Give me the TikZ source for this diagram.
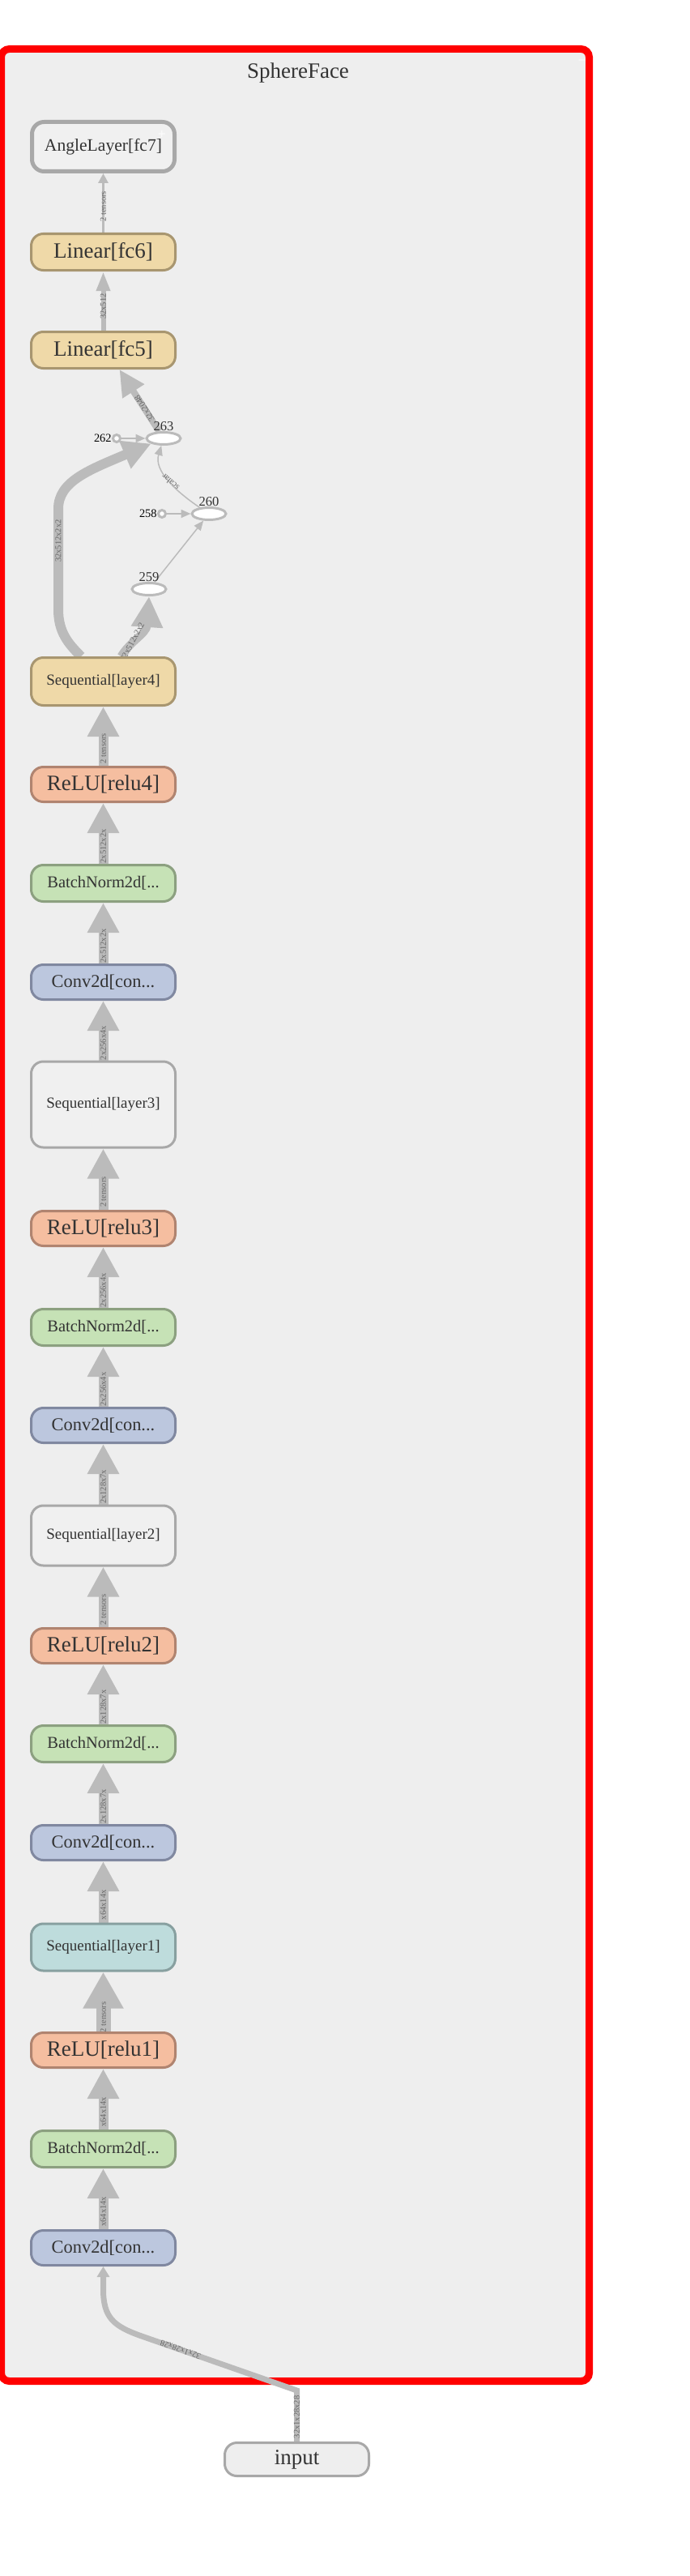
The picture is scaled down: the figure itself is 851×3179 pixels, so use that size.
\documentclass[tikz,border=0pt]{standalone}
\usepackage{fontspec}
\setmainfont{Liberation Serif}
\usetikzlibrary{arrows.meta,shapes.geometric}

\definecolor{clusterbg}{HTML}{EEEEEE}
\definecolor{framered}{HTML}{FF0000}
\definecolor{edgegray}{HTML}{BBBBBB}
\definecolor{labgray}{HTML}{666666}
\definecolor{txtgray}{HTML}{333333}
\definecolor{tanfill}{HTML}{EFD9A8}
\definecolor{tanline}{HTML}{A89670}
\definecolor{relufill}{HTML}{F5BEA0}
\definecolor{reluline}{HTML}{B08470}
\definecolor{bnfill}{HTML}{C6E2B6}
\definecolor{bnline}{HTML}{8CA080}
\definecolor{convfill}{HTML}{BCC7DE}
\definecolor{convline}{HTML}{8088A0}
\definecolor{tealfill}{HTML}{BEDCDC}
\definecolor{tealline}{HTML}{88A0A0}
\definecolor{seqfill}{HTML}{F0F0F0}
\definecolor{seqline}{HTML}{A8A8A8}

\pgfdeclarelayer{cluster}
\pgfdeclarelayer{edges}
\pgfsetlayers{cluster,edges,main}

\begin{document}
\begin{tikzpicture}[
    x=0.5pt, y=-0.5pt,
    box/.style={draw, rounded corners=7.5pt, line width=1.5pt, minimum width=89pt, inner sep=0pt, text=txtgray},
    linear/.style={box, fill=tanfill, draw=tanline, minimum height=22.5pt, font=\fontsize{13.5pt}{16pt}\selectfont},
    relu/.style={box, fill=relufill, draw=reluline, minimum height=21.5pt, font=\fontsize{13.5pt}{16pt}\selectfont},
    bn/.style={box, fill=bnfill, draw=bnline, minimum height=22.5pt, font=\fontsize{10.25pt}{12pt}\selectfont},
    conv/.style={box, fill=convfill, draw=convline, minimum height=21.5pt, font=\fontsize{11.2pt}{13pt}\selectfont},
    seq/.style={box, fill=seqfill, draw=seqline, font=\fontsize{9.5pt}{11pt}\selectfont},
    seqtan/.style={seq, fill=tanfill, draw=tanline, minimum height=29.5pt},
    seqteal/.style={seq, fill=tealfill, draw=tealline, minimum height=29pt},
    anglebox/.style={box, fill=seqfill, draw=seqline, line width=2.5pt, minimum width=88pt, minimum height=30.5pt, font=\fontsize{10.8pt}{13pt}\selectfont},
    inbox/.style={box, fill=clusterbg, draw=seqline, minimum height=20.5pt, font=\fontsize{13.5pt}{16pt}\selectfont},
    op/.style={ellipse, draw=edgegray, fill=white, line width=1.5pt, minimum width=21pt, minimum height=7.5pt, inner sep=0pt, label distance=4.5pt},
    const/.style={circle, draw=edgegray, fill=white, line width=1.5pt, minimum size=4.5pt, inner sep=0pt, label distance=3pt},
    idlab/.style={font=\fontsize{8.3pt}{10pt}\selectfont, text=txtgray, inner sep=0pt},
    constlab/.style={font=\fontsize{7.2pt}{9pt}\selectfont, text=black, inner sep=0pt},
    elabel/.style={font=\fontsize{5.25pt}{6pt}\selectfont, text=labgray, inner sep=0pt},
    vlabel/.style={elabel, rotate=90},
    flow/.style n args={3}{draw=edgegray, line width=#1, -{Triangle[length=#2,width=#3]}},
    link/.style={flow={6pt}{18.5pt}{18.5pt}},
]
\useasboundingbox (0,0) rectangle (851,3179);

% cluster
\begin{pgfonlayer}{cluster}
\draw[framered, fill=clusterbg, line width=4.5pt, rounded corners=5pt] (1.5,60.5) rectangle (727.5,2938.5);
\end{pgfonlayer}
\node[text=txtgray, font=\fontsize{13.5pt}{16pt}\selectfont] (title) at (368,90) {SphereFace};
\node[text=white, font=\fontsize{9pt}{10pt}\selectfont] (collapse) at (719,77) {−};

% head
\node[anglebox] (fc7) at (127.5,181) {AngleLayer[fc7]};
\node[text=white, font=\fontsize{9pt}{10pt}\selectfont] (expand) at (200,166) {+};
\node[linear] (fc6) at (127.5,311) {Linear[fc6]};
\node[linear] (fc5) at (127.5,432) {Linear[fc5]};

\node[op, label={[idlab]above:263}] (n263) at (202,541) {};
\node[const, label={[constlab]left:262}] (n262) at (144,541) {};
\node[op, label={[idlab]above:260}] (n260) at (258,634) {};
\node[const, label={[constlab]left:258}] (n258) at (200,634) {};
\node[op, label={[idlab]above:259}] (n259) at (184,727) {};

% trunk
\node[seqtan] (layer4) at (127.5,841) {Sequential[layer4]};
\node[relu] (relu4) at (127.5,968) {ReLU[relu4]};
\node[bn] (bn4) at (127.5,1090) {BatchNorm2d[...};
\node[conv] (conv4) at (127.5,1212) {Conv2d[con...};
\node[seq, minimum height=53pt] (layer3) at (127.5,1363) {Sequential[layer3]};
\node[relu] (relu3) at (127.5,1516) {ReLU[relu3]};
\node[bn] (bn3) at (127.5,1638) {BatchNorm2d[...};
\node[conv] (conv3) at (127.5,1759) {Conv2d[con...};
\node[seq, minimum height=37pt] (layer2) at (127.5,1895) {Sequential[layer2]};
\node[relu] (relu2) at (127.5,2031) {ReLU[relu2]};
\node[bn] (bn2) at (127.5,2152) {BatchNorm2d[...};
\node[conv] (conv2) at (127.5,2274) {Conv2d[con...};
\node[seqteal] (layer1) at (127.5,2403) {Sequential[layer1]};
\node[relu] (relu1) at (127.5,2530) {ReLU[relu1]};
\node[bn] (bn1) at (127.5,2652) {BatchNorm2d[...};
\node[conv] (conv1) at (127.5,2774) {Conv2d[con...};

\node[inbox] (input) at (366.5,3035) {input};

% edges
\begin{pgfonlayer}{edges}
\foreach \from/\to/\txt in {conv1/bn1/x64x14x, bn1/relu1/x64x14x, layer1/conv2/x64x14x,
    conv2/bn2/2x128x7x, bn2/relu2/2x128x7x, relu2/layer2/2 tensors, layer2/conv3/2x128x7x,
    conv3/bn3/2x256x4x, bn3/relu3/2x256x4x, relu3/layer3/2 tensors, layer3/conv4/2x256x4x,
    conv4/bn4/2x512x2x, bn4/relu4/2x512x2x, relu4/layer4/2 tensors}
  \draw[link] (\from) -- node[vlabel, pos=0.29] {\txt} (\to);
\draw[flow={9pt}{22.5pt}{23.5pt}] (relu1) -- node[vlabel, pos=0.24] {2 tensors} (layer1);

\draw[flow={5pt}{19pt}{18.5pt}] ([xshift=11pt]layer4.north) .. controls (160,792) and (181,782) .. node[elabel, pos=0.35, rotate=62] {32x512x2x2} (n259.south);
\draw[flow={6pt}{17.5pt}{17.5pt}] ([xshift=-13.75pt]layer4.north) .. controls (84,794) and (72,780) .. (72,752)
  -- node[vlabel, pos=0.68] {32x512x2x2} (72,628) .. controls (72,594) and (110,580) .. (n263);
\draw[flow={0.75pt}{6pt}{5pt}] (n259) -- (n260);
\draw[flow={1pt}{6pt}{5pt}] (n258) -- (n260);
\draw[flow={1pt}{6pt}{5pt}] (n262) -- (n263);
\draw[flow={0.75pt}{6pt}{5pt}] (n260) .. controls (215,605) and (190,580) .. node[elabel, pos=0.45, rotate=140] {scalar} (n263);
\draw[flow={4pt}{16pt}{15pt}] (n263) -- node[elabel, pos=0.37, rotate=123] {32x2048} ([xshift=10pt]fc5.south);
\draw[flow={3pt}{12pt}{8pt}] (fc5) -- node[vlabel, pos=0.41] {32x512} (fc6);
\draw[flow={1.5pt}{6pt}{6pt}] (fc6) -- node[vlabel, pos=0.44] {2 tensors} (fc7);

\draw[flow={3.5pt}{6.5pt}{7.5pt}] (input) -- node[vlabel, pos=0.48] {32x1x28x28} (366.5,2950)
  -- node[elabel, pos=0.75, rotate=160] {32x1x28x28} (175,2883)
  .. controls (140,2870.7) and (127.5,2860) .. (127.5,2825) -- (conv1);
\end{pgfonlayer}
\end{tikzpicture}
\end{document}
